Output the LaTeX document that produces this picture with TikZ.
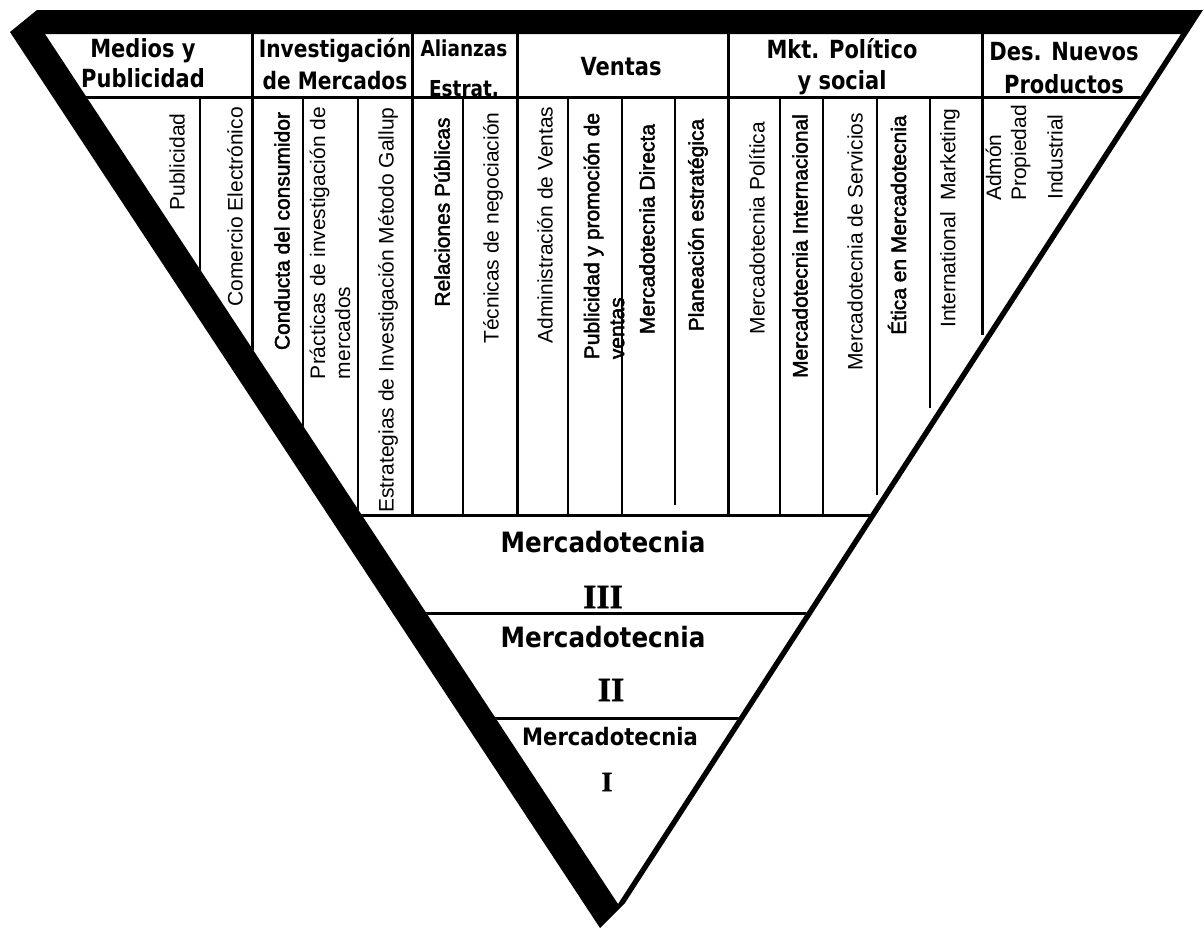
\documentclass[tikz,border=0pt]{standalone}
\usepackage{fontspec}
\setmainfont{Liberation Sans}
\newfontfamily\headfont[FakeStretch=0.84]{DejaVu Sans}
\newfontfamily\levelfont[FakeStretch=0.88]{DejaVu Sans}
\newfontfamily\colboldfont[FakeBold=2]{Liberation Sans}
\newfontfamily\romfont[FakeBold=1]{Liberation Serif}

\begin{document}
\begin{tikzpicture}[x=1pt, y=-1pt, font=\fontsize{21}{25}\selectfont]
    % Set up styles for the table
    \tikzstyle{head} = [font=\headfont\bfseries\fontsize{25}{30}\selectfont, align=center, inner sep=0pt]
    \tikzstyle{col} = [rotate=90, align=left, inner sep=0pt]
    \tikzstyle{colbf} = [col, font=\colboldfont\fontsize{21}{25}\selectfont]
    \tikzstyle{level} = [font=\levelfont\bfseries\fontsize{28}{30}\selectfont, inner sep=0pt]
    \tikzstyle{roman} = [font=\romfont\bfseries\fontsize{34}{34}\selectfont, inner sep=0pt]
    \tikzstyle{subline} = [line width=1.5pt]
    \tikzstyle{groupline} = [line width=3pt]

    \useasboundingbox (0,0) rectangle (1204,930);

    % Inner corners of the triangle
    \coordinate (tl) at (45,34);
    \coordinate (tr) at (1181,34);
    \coordinate (ap) at (618,904);

    % Draw the grid, cut by the triangle
    \begin{scope}
        \clip (tl) -- (tr) -- (ap) -- cycle;
        \draw[groupline] (0,97) -- (1204,97);
        \foreach \x in {252,412,517,728}
            \draw[groupline] (\x,34) -- (\x,515);
        \draw[groupline] (982,34) -- (982,335);
        \foreach \x in {200,303,358,463,568,622,780,823}
            \draw[subline] (\x,97) -- (\x,515);
        \draw[subline] (675,97) -- (675,505);
        \draw[subline] (877,97) -- (877,495);
        \draw[subline] (930,97) -- (930,408);
        % Draw the level lines
        \draw[groupline] (0,515) -- (1204,515);
        \draw[groupline] (0,613) -- (1204,613);
        \draw[groupline] (0,718) -- (1204,718);
    \end{scope}

    % Draw the black frame
    \fill[even odd rule] (10,32) -- (37,10) -- (1203,10) -- (625,903) -- (600,928) -- cycle
        (tl) -- (tr) -- (ap) -- cycle;

    % Label the areas
    \node[head] (medios) at (143,63) {Medios y\\Publicidad};
    \node[head, font=\headfont\bfseries\fontsize{24}{32}\selectfont] (investigacion) at (335,64) {Investigación\\de Mercados};
    \node[head, font=\headfont\bfseries\fontsize{22}{40}\selectfont] (alianzas) at (464,68) {Alianzas\\Estrat.};
    \node[head] (ventas) at (621,67) {Ventas};
    \node[head, font=\headfont\bfseries\fontsize{25}{31}\selectfont] (politico) at (842,67) {Mkt. Político\\y social};
    \node[head, font=\headfont\bfseries\fontsize{25}{33}\selectfont] (nuevos) at (1064,68) {Des. Nuevos\\Productos};

    % Label the subjects
    \node[col] (publicidad) at (177,162) {Publicidad};
    \node[col] (comercio) at (235,207) {Comercio Electrónico};
    \node[colbf] (conducta) at (282,231) {Conducta del consumidor};
    \node[col] (practicas) at (330,243) {Prácticas de investigación de\\mercados};
    \node[col] (estrategias) at (388,310) {Estrategias de Investigación Método Gallup};
    \node[colbf] (relaciones) at (442,212) {Relaciones Públicas};
    \node[col] (tecnicas) at (493,228) {Técnicas de negociación};
    \node[col] (administracion) at (545,225) {Administración de Ventas};
    \node[colbf] (promocion) at (604,236) {Publicidad y promoción de\\ventas};
    \node[colbf] (directa) at (647,229) {Mercadotecnia Directa};
    \node[colbf] (planeacion) at (698,225) {Planeación estratégica};
    \node[col] (politica) at (757,228) {Mercadotecnia Política};
    \node[colbf] (internacional) at (800,246) {Mercadotecnia Internacional};
    \node[col] (servicios) at (855,242) {Mercadotecnia de Servicios};
    \node[colbf] (etica) at (897,225) {Ética en Mercadotecnia};
    \node[col] (marketing) at (950,218) {International\ \ Marketing};
    \node[col] (admon) at (1008,153) {Admón\\Propiedad};
    \node[col] (industrial) at (1055,157) {Industrial};

    % Label the levels
    \node[level] (merc3) at (603,542) {Mercadotecnia};
    \node[roman] (nivel3) at (603,597) {III};
    \node[level] (merc2) at (603,637) {Mercadotecnia};
    \node[roman] (nivel2) at (611,690) {II};
    \node[level, font=\levelfont\bfseries\fontsize{24}{30}\selectfont] (merc1) at (610,737) {Mercadotecnia};
    \node[roman, font=\romfont\bfseries\fontsize{28}{30}\selectfont] (nivel1) at (607,782) {I};

\end{tikzpicture}
\end{document}
